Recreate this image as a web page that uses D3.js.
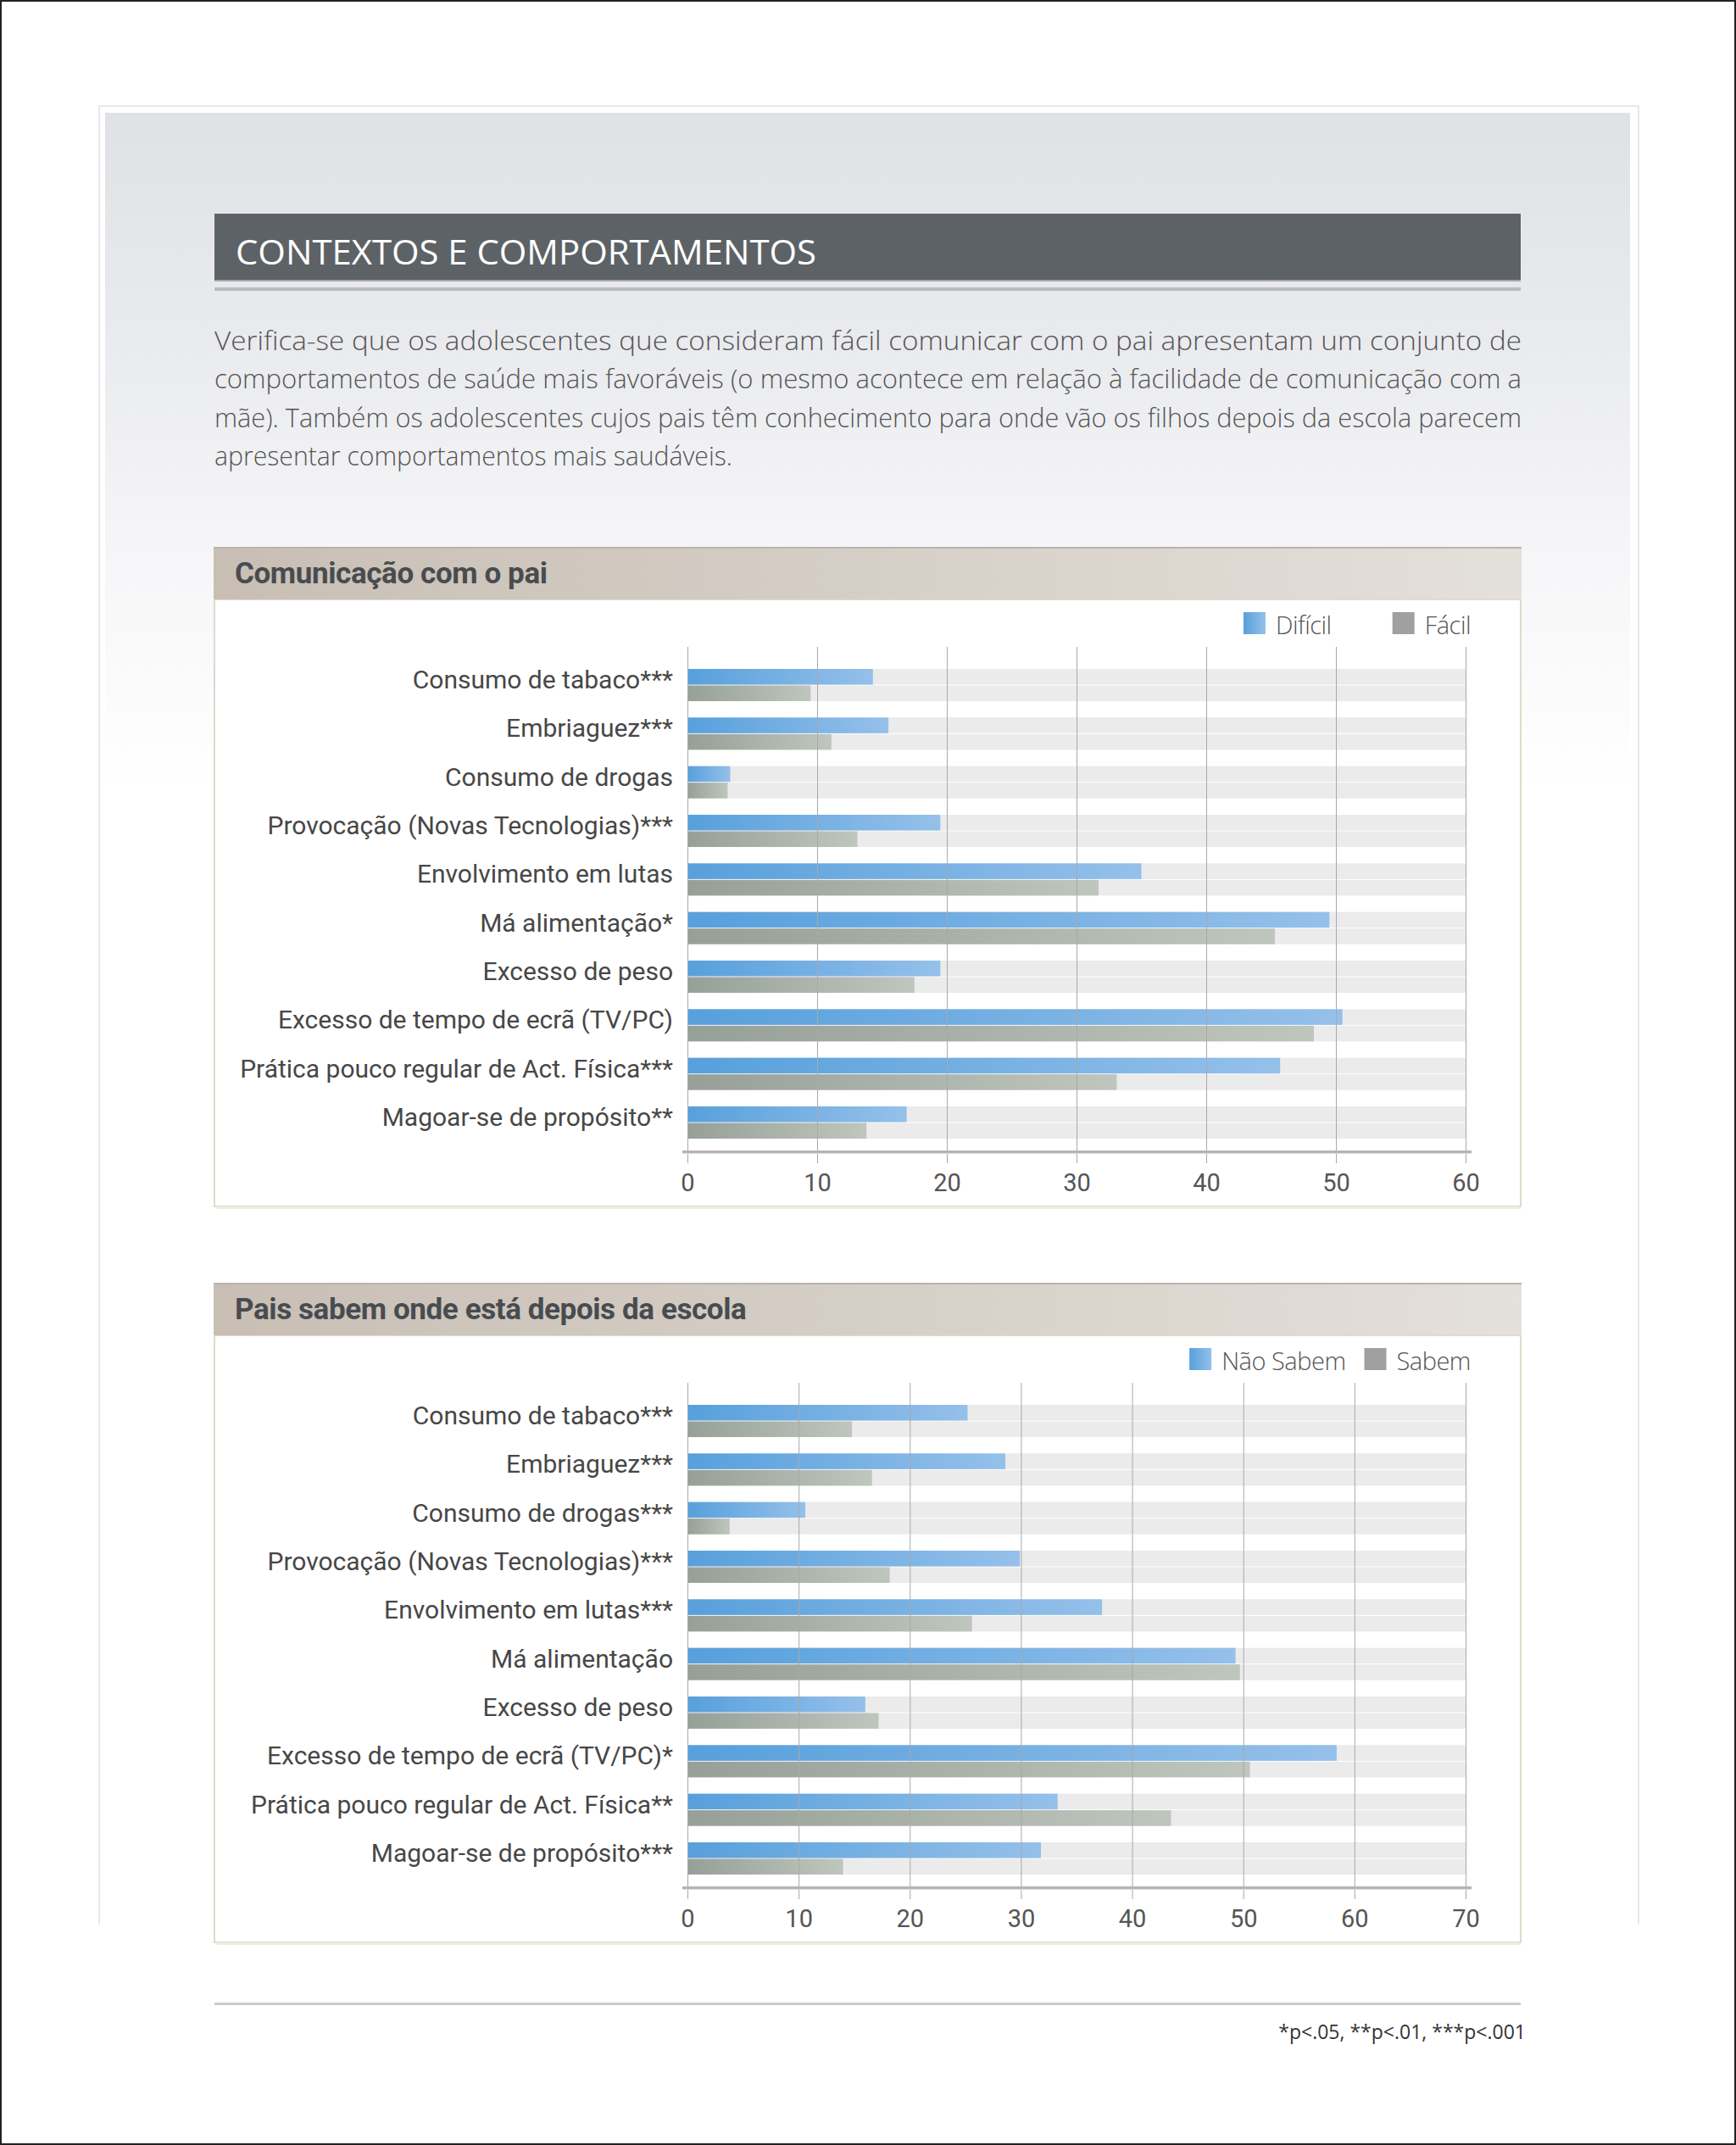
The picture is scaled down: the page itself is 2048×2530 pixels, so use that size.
<!DOCTYPE html>
<html>
<head>
<meta charset="utf-8">
<script src="https://cdn.jsdelivr.net/npm/d3@7"></script>
<style>
  body { margin: 0; background: #fff; }
  svg { display: block; }
</style>
</head>
<body>
<svg id="page" width="2048" height="2530"></svg>
<script>
// data
var categories1 = ['Consumo de tabaco***', 'Embriaguez***', 'Consumo de drogas',
  'Provocação (Novas Tecnologias)***', 'Envolvimento em lutas', 'Má alimentação*',
  'Excesso de peso', 'Excesso de tempo de ecrã (TV/PC)',
  'Prática pouco regular de Act. Física***', 'Magoar-se de propósito**']
var dificil = [14.3, 15.5, 3.3, 19.5, 35.0, 49.5, 19.5, 50.5, 45.7, 16.9]
var facil = [9.5, 11.1, 3.1, 13.1, 31.7, 45.3, 17.5, 48.3, 33.1, 13.8]

var categories2 = ['Consumo de tabaco***', 'Embriaguez***', 'Consumo de drogas***',
  'Provocação (Novas Tecnologias)***', 'Envolvimento em lutas***', 'Má alimentação',
  'Excesso de peso', 'Excesso de tempo de ecrã (TV/PC)*',
  'Prática pouco regular de Act. Física**', 'Magoar-se de propósito***']
var naoSabem = [25.2, 28.6, 10.6, 29.9, 37.3, 49.3, 16.0, 58.4, 33.3, 31.8]
var sabem = [14.8, 16.6, 3.8, 18.2, 25.6, 49.7, 17.2, 50.6, 43.5, 14.0]

var ticks1 = [0, 10, 20, 30, 40, 50, 60]
var ticks2 = [0, 10, 20, 30, 40, 50, 60, 70]
var legend1 = ['Difícil', 'Fácil']
var legend2 = ['Não Sabem', 'Sabem']

var pageTitle = 'CONTEXTOS E COMPORTAMENTOS'
var paragraph = [
  'Verifica-se que os adolescentes que consideram fácil comunicar com o pai apresentam um conjunto de',
  'comportamentos de saúde mais favoráveis (o mesmo acontece em relação à facilidade de comunicação com a',
  'mãe). Também os adolescentes cujos pais têm conhecimento para onde vão os filhos depois da escola parecem',
  'apresentar comportamentos mais saudáveis.'
]
var footnote = '*p<.05, **p<.01, ***p<.001'

var svg = d3.select('#page')
var defs = svg.append('defs')

function hGrad(id, c0, c1) {
  var g = defs.append('linearGradient').attr('id', id)
  g.append('stop').attr('offset', 0).attr('stop-color', c0)
  g.append('stop').attr('offset', 1).attr('stop-color', c1)
}
hGrad('blueGrad', '#57a0dc', '#95c0ea')
hGrad('grayGrad', '#97a097', '#bec6be')
hGrad('bandGrad', '#c8beb4', '#e4e0da')

var bg = defs.append('linearGradient').attr('id', 'bgGrad')
  .attr('x1', 0).attr('y1', 0).attr('x2', 0).attr('y2', 1)
bg.append('stop').attr('offset', 0).attr('stop-color', '#dfe1e4')
bg.append('stop').attr('offset', 0.35).attr('stop-color', '#eaebee')
bg.append('stop').attr('offset', 0.65).attr('stop-color', '#f6f6f8')
bg.append('stop').attr('offset', 1).attr('stop-color', '#ffffff')

// page frame and card
svg.append('rect').attr('x', 0).attr('y', 0).attr('width', 2048).attr('height', 2530).attr('fill', '#fff')
svg.append('path').attr('d', 'M117,2270V125H1933V2270')
  .attr('fill', 'none').attr('stroke', '#e8e8e8').attr('stroke-width', 2)
svg.append('rect').attr('x', 124).attr('y', 133).attr('width', 1799).attr('height', 800)
  .attr('fill', 'url(#bgGrad)')
svg.append('rect').attr('x', 1).attr('y', 1).attr('width', 2046).attr('height', 2528)
  .attr('fill', 'none').attr('stroke', '#222').attr('stroke-width', 2)

// header
svg.append('rect').attr('x', 253).attr('y', 252).attr('width', 1541).attr('height', 78).attr('fill', '#5d6266')
svg.append('rect').attr('x', 253).attr('y', 330).attr('width', 1541).attr('height', 2).attr('fill', '#a3a7ab')
svg.append('rect').attr('x', 253).attr('y', 339).attr('width', 1541).attr('height', 4).attr('fill', '#b9bcbf')
svg.append('text').attr('x', 278).attr('y', 312)
  .attr('font-family', 'Open Sans').attr('font-weight', 500).attr('font-size', 40)
  .attr('fill', '#fff').attr('textLength', 685).attr('lengthAdjust', 'spacingAndGlyphs')
  .text(pageTitle)

// intro paragraph (justified lines)
svg.append('g').selectAll('text').data(paragraph).join('text')
  .attr('x', 253)
  .attr('y', function(d, i) { return 413 + i * 45.3 })
  .attr('font-family', 'Open Sans').attr('font-weight', 300).attr('font-size', 31)
  .attr('fill', '#555')
  .attr('textLength', function(d, i) { return i < paragraph.length - 1 ? 1542 : 611 })
  .attr('lengthAdjust', 'spacingAndGlyphs')
  .text(function(d) { return d })

function drawChart(top, title, cats, seriesA, seriesB, ticks, names, legendGap) {
  var g = svg.append('g')
  var max = ticks[ticks.length - 1]
  var x = d3.scaleLinear().domain([0, max]).range([811, 1729])
  var y = d3.scaleBand().domain(cats).range([top + 144, top + 698]).paddingInner(0.337).paddingOuter(0)
  var sub = d3.scaleBand().domain(['a', 'b']).range([0, y.bandwidth()]).paddingInner(0.05)

  // panel + band
  g.append('rect').attr('x', 253).attr('y', top + 62).attr('width', 1541).attr('height', 716)
    .attr('fill', '#fff').attr('stroke', '#dcdccc').attr('stroke-width', 2)
  g.append('rect').attr('x', 256).attr('y', top + 778).attr('width', 1538).attr('height', 3).attr('fill', '#ececE4')
  g.append('rect').attr('x', 252).attr('y', top).attr('width', 1543).attr('height', 62).attr('fill', 'url(#bandGrad)')
  g.append('rect').attr('x', 252).attr('y', top).attr('width', 1543).attr('height', 2).attr('fill', '#bbb3aa')
  g.append('text').attr('x', 277).attr('y', top + 43)
    .attr('font-family', 'Roboto').attr('font-weight', 700).attr('font-size', 35)
    .attr('fill', '#484c50').attr('letter-spacing', -0.4)
    .text(title)

  // background tracks
  var rows = g.append('g').selectAll('g').data(cats).join('g')
    .attr('transform', function(d) { return 'translate(0,' + y(d) + ')' })
  rows.selectAll('rect.track').data(['a', 'b']).join('rect').attr('class', 'track')
    .attr('x', x(0)).attr('y', function(k) { return sub(k) })
    .attr('width', x(max) - x(0)).attr('height', sub.bandwidth())
    .attr('fill', '#ebebeb')

  // gridlines
  g.append('g').selectAll('line').data(ticks).join('line')
    .attr('x1', function(d) { return x(d) + 0.5 }).attr('x2', function(d) { return x(d) + 0.5 })
    .attr('y1', top + 118).attr('y2', top + 727)
    .attr('stroke', '#a9a9a9').attr('stroke-width', 1)

  // bars
  rows.append('rect')
    .attr('x', x(0)).attr('y', sub('a'))
    .attr('width', function(d, i) { return x(seriesA[i]) - x(0) })
    .attr('height', sub.bandwidth()).attr('fill', 'url(#blueGrad)')
  rows.append('rect')
    .attr('x', x(0)).attr('y', sub('b'))
    .attr('width', function(d, i) { return x(seriesB[i]) - x(0) })
    .attr('height', sub.bandwidth()).attr('fill', 'url(#grayGrad)')

  // category labels
  rows.append('text')
    .attr('x', 794).attr('y', 23)
    .attr('text-anchor', 'end')
    .attr('font-family', 'Roboto').attr('font-size', 30).attr('fill', '#474747')
    .text(function(d) { return d })

  // axis line
  g.append('rect').attr('x', 805).attr('y', top + 712).attr('width', 931).attr('height', 3).attr('fill', '#b4b4b4')
  g.append('rect').attr('x', 805).attr('y', top + 715).attr('width', 931).attr('height', 1).attr('fill', '#dedede')

  var axis = g.append('g').attr('transform', 'translate(0,' + (top + 727) + ')')
    .call(d3.axisBottom(x).tickValues(ticks).tickSize(0).tickPadding(12))
  axis.select('.domain').remove()
  axis.selectAll('text').attr('font-family', 'Roboto').attr('font-size', 29).attr('fill', '#555')

  // legend, right aligned
  var lg = g.append('g')
  var xr = 1735
  for (var i = names.length - 1; i >= 0; i--) {
    var t = lg.append('text').attr('y', top + 103)
      .attr('font-family', 'Open Sans').attr('font-weight', 300).attr('font-size', 29)
      .attr('fill', '#555').attr('letter-spacing', -0.5).text(names[i])
    xr -= t.node().getComputedTextLength()
    t.attr('x', xr)
    xr -= 12 + 26
    lg.append('rect').attr('x', xr).attr('y', top + 77).attr('width', 26).attr('height', 26)
      .attr('fill', i === 0 ? 'url(#blueGrad)' : '#a0a0a0')
    xr -= legendGap
  }
}

drawChart(645, 'Comunicação com o pai', categories1, dificil, facil, ticks1, legend1, 72)
drawChart(1513, 'Pais sabem onde está depois da escola', categories2, naoSabem, sabem, ticks2, legend2, 22)

// footer
svg.append('rect').attr('x', 253).attr('y', 2362).attr('width', 1541).attr('height', 3).attr('fill', '#cbcbcb')
svg.append('text').attr('x', 1800).attr('y', 2405).attr('text-anchor', 'end')
  .attr('font-family', 'Open Sans').attr('font-size', 23).attr('fill', '#333')
  .text(footnote)
</script>
</body>
</html>
